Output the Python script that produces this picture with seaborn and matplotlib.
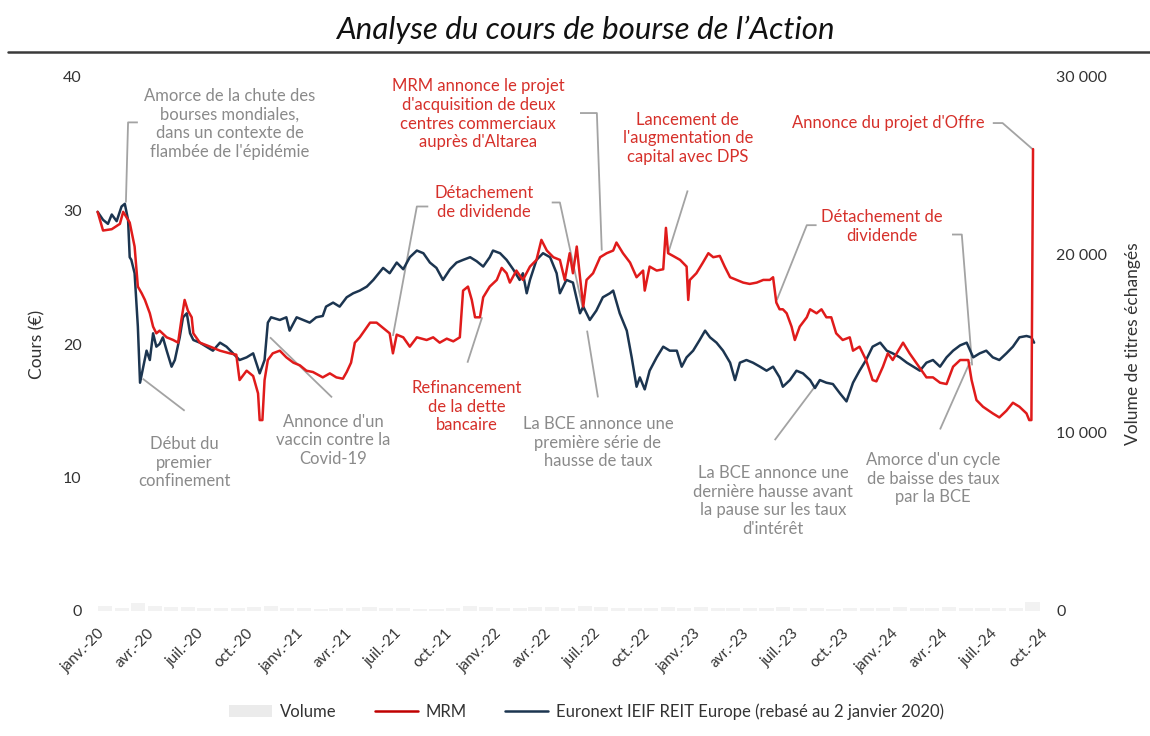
import matplotlib
matplotlib.use("Agg")
import matplotlib.pyplot as plt
from matplotlib.lines import Line2D
from matplotlib.patches import Patch
import seaborn as sns
import pandas as pd

# ---------------- data ----------------
mrm_dates = ['2020-01-02','2020-01-12','2020-01-28','2020-02-12','2020-02-18','2020-03-01','2020-03-10','2020-03-16',
 '2020-03-23','2020-03-29','2020-04-07','2020-04-13','2020-04-19','2020-04-25','2020-05-08','2020-05-20','2020-05-29',
 '2020-06-04','2020-06-10','2020-06-16','2020-06-23','2020-06-26','2020-07-08','2020-07-27','2020-08-14','2020-09-01',
 '2020-09-13','2020-09-19','2020-10-02','2020-10-14','2020-10-23','2020-10-26','2020-10-31','2020-11-04','2020-11-10',
 '2020-11-19','2020-12-02','2020-12-14','2020-12-27','2021-01-08','2021-01-20','2021-02-01','2021-02-19','2021-03-04',
 '2021-03-16','2021-03-28','2021-04-04','2021-04-12','2021-04-19','2021-04-28','2021-05-17','2021-05-29','2021-06-10',
 '2021-06-22','2021-06-28','2021-07-05','2021-07-17','2021-07-29','2021-08-11','2021-08-29','2021-09-10','2021-09-22',
 '2021-10-05','2021-10-17','2021-10-29','2021-11-04','2021-11-13','2021-11-20','2021-11-26','2021-12-05','2021-12-11',
 '2021-12-23','2022-01-05','2022-01-14','2022-01-23','2022-01-29','2022-02-10','2022-02-22','2022-03-07','2022-03-19',
 '2022-03-28','2022-04-07','2022-04-19','2022-05-01','2022-05-10','2022-05-19','2022-05-25','2022-06-01','2022-06-07',
 '2022-06-13','2022-06-19','2022-07-01','2022-07-14','2022-07-26','2022-08-07','2022-08-13','2022-08-25','2022-09-07',
 '2022-09-19','2022-10-01','2022-10-04','2022-10-13','2022-10-26','2022-11-07','2022-11-12','2022-11-16','2022-11-25',
 '2022-12-08','2022-12-20','2022-12-23','2022-12-26','2023-01-07','2023-01-19','2023-01-29','2023-02-07','2023-02-19',
 '2023-02-28','2023-03-10','2023-03-22','2023-04-03','2023-04-15','2023-04-28','2023-05-10','2023-05-22','2023-05-28',
 '2023-06-03','2023-06-09','2023-06-15','2023-06-22','2023-07-01','2023-07-07','2023-07-16','2023-07-29','2023-08-04',
 '2023-08-16','2023-08-25','2023-09-03','2023-09-12','2023-09-21','2023-10-03','2023-10-16','2023-10-22','2023-11-03',
 '2023-11-15','2023-11-27','2023-12-04','2023-12-16','2023-12-25','2024-01-03','2024-01-22','2024-02-03','2024-02-15',
 '2024-03-05','2024-03-17','2024-03-30','2024-04-11','2024-04-23','2024-05-06','2024-05-21','2024-05-27','2024-06-05',
 '2024-06-17','2024-07-05','2024-07-17','2024-07-30','2024-08-11','2024-08-23','2024-09-05','2024-09-10','2024-09-14',
 '2024-09-17']
mrm_values = [29.9,28.5,28.6,29.0,29.9,29.1,27.3,24.3,
 23.8,23.3,22.3,21.3,20.8,21.0,20.5,20.3,20.1,
 21.8,23.3,22.5,22.0,20.8,20.1,19.8,19.5,19.3,
 19.2,17.3,18.0,17.6,16.3,14.3,14.3,17.3,18.8,
 19.3,19.5,19.0,18.6,18.4,18.0,17.9,17.5,17.8,
 17.5,17.4,17.9,18.6,20.1,20.5,21.6,21.6,21.2,
 20.8,19.3,20.7,20.5,19.8,20.5,20.3,20.5,20.1,
 20.4,20.2,20.5,24.0,24.3,23.3,22.0,22.0,23.5,
 24.3,24.8,25.7,25.3,24.6,25.5,24.8,25.8,26.3,
 27.8,27.0,26.5,26.3,24.8,26.8,25.3,27.3,25.0,
 22.8,24.8,25.3,26.5,26.8,27.0,27.6,26.8,26.1,
 25.0,25.5,24.0,25.8,25.5,25.6,28.7,26.8,26.6,
 26.3,25.8,23.3,24.8,25.3,26.1,26.8,26.5,26.6,
 25.8,25.0,24.8,24.6,24.5,24.6,24.8,24.8,25.0,
 23.1,22.6,22.6,22.3,21.3,20.3,21.3,22.0,22.6,
 22.3,22.6,22.0,22.0,20.8,20.3,20.5,19.5,19.8,
 18.8,17.3,17.2,18.3,19.3,18.8,20.1,19.3,18.6,
 17.5,17.5,17.1,17.0,18.3,18.8,18.8,17.3,15.8,
 15.3,14.8,14.5,15.0,15.6,15.3,14.8,14.3,14.3,
 34.6]

reit_dates = ['2020-01-02','2020-01-12','2020-01-21','2020-01-28','2020-02-06','2020-02-15','2020-02-21','2020-02-27',
 '2020-03-01','2020-03-04','2020-03-10','2020-03-16','2020-03-20','2020-03-26','2020-04-01','2020-04-07','2020-04-13',
 '2020-04-19','2020-04-25','2020-05-01','2020-05-08','2020-05-17','2020-05-23','2020-06-01','2020-06-07','2020-06-14',
 '2020-06-20','2020-06-26','2020-07-08','2020-07-20','2020-08-01','2020-08-14','2020-08-26','2020-09-07','2020-09-19',
 '2020-10-02','2020-10-14','2020-10-26','2020-11-04','2020-11-10','2020-11-16','2020-12-02','2020-12-14','2020-12-20',
 '2021-01-02','2021-01-14','2021-01-26','2021-02-07','2021-02-19','2021-02-25','2021-03-10','2021-03-22','2021-04-04',
 '2021-04-16','2021-04-28','2021-05-11','2021-05-23','2021-06-10','2021-06-22','2021-07-05','2021-07-17','2021-07-29',
 '2021-08-11','2021-08-23','2021-09-04','2021-09-16','2021-09-28','2021-10-11','2021-10-23','2021-11-04','2021-11-17',
 '2021-11-29','2021-12-11','2021-12-23','2021-12-29','2022-01-11','2022-01-23','2022-02-04','2022-02-16','2022-02-22',
 '2022-03-01','2022-03-07','2022-03-19','2022-03-31','2022-04-13','2022-04-25','2022-05-01','2022-05-13','2022-05-25',
 '2022-06-07','2022-06-13','2022-06-25','2022-07-07','2022-07-19','2022-08-01','2022-08-07','2022-08-19','2022-09-01',
 '2022-09-10','2022-09-19','2022-09-25','2022-10-04','2022-10-13','2022-10-26','2022-11-07','2022-11-19','2022-12-02',
 '2022-12-11','2022-12-20','2023-01-01','2023-01-13','2023-01-23','2023-02-01','2023-02-13','2023-02-25','2023-03-10',
 '2023-03-19','2023-03-28','2023-04-09','2023-04-21','2023-05-04','2023-05-16','2023-05-28','2023-06-09','2023-06-15',
 '2023-06-28','2023-07-10','2023-07-22','2023-08-04','2023-08-13','2023-08-22','2023-09-03','2023-09-15','2023-09-28',
 '2023-10-10','2023-10-22','2023-11-03','2023-11-15','2023-11-27','2023-12-11','2023-12-23','2024-01-03','2024-01-16',
 '2024-01-29','2024-02-10','2024-02-22','2024-03-05','2024-03-17','2024-03-30','2024-04-11','2024-04-23','2024-05-06',
 '2024-05-18','2024-05-30','2024-06-11','2024-06-23','2024-07-05','2024-07-17','2024-07-30','2024-08-11','2024-08-23',
 '2024-09-05','2024-09-14','2024-09-19']
reit_values = [29.9,29.3,29.0,29.7,29.2,30.3,30.5,29.3,
 26.5,26.3,25.3,21.3,17.1,18.3,19.5,18.8,20.8,
 19.8,20.0,20.5,19.5,18.3,18.8,20.5,22.0,22.3,
 20.8,20.3,20.1,19.8,19.5,20.1,19.8,19.3,18.8,
 19.0,19.3,17.8,18.8,21.6,22.0,21.8,22.0,21.0,
 22.0,21.8,21.6,22.0,22.1,22.8,23.1,22.8,23.5,
 23.8,24.0,24.3,24.8,25.7,25.3,26.1,25.6,26.5,
 27.0,26.8,26.1,25.7,24.8,25.6,26.1,26.3,26.5,
 26.2,25.8,26.5,27.0,26.8,26.3,25.6,24.8,25.3,
 23.8,24.8,26.3,26.8,26.5,25.3,23.8,24.8,24.6,
 22.3,22.8,21.8,22.5,23.5,23.8,24.0,22.3,21.0,
 19.0,16.8,17.5,16.6,18.0,19.0,19.8,19.5,19.5,
 18.3,19.0,19.5,20.3,21.0,20.5,20.1,19.5,18.6,
 17.3,18.6,18.8,18.6,18.3,18.0,18.3,17.5,16.8,
 17.3,18.0,17.8,17.3,16.7,17.3,17.1,17.0,16.3,
 15.7,17.1,18.0,18.8,19.8,20.1,19.5,19.3,19.0,
 18.6,18.3,18.0,18.6,18.8,18.3,19.0,19.5,19.9,
 20.1,19.0,19.3,19.5,19.0,18.8,19.3,19.8,20.5,
 20.6,20.5,20.1]

volume_months = pd.date_range('2020-01-01', '2024-09-01', freq='MS')
volume_values = [260, 190, 450, 300, 220, 200, 160, 150, 170, 210, 280, 190,
                 150, 140, 160, 180, 210, 190, 150, 130, 140, 160, 300, 210,
                 190, 170, 220, 210, 190, 260, 200, 150, 170, 190, 210, 180,
                 200, 190, 170, 150, 160, 210, 180, 150, 140, 160, 170, 150,
                 200, 170, 150, 210, 190, 160, 150, 150, 480]

quarter_ticks = ['2020-01-01','2020-04-01','2020-07-01','2020-10-01','2021-01-01','2021-04-01','2021-07-01',
                 '2021-10-01','2022-01-01','2022-04-01','2022-07-01','2022-10-01','2023-01-01','2023-04-01',
                 '2023-07-01','2023-10-01','2024-01-01','2024-04-01','2024-07-01','2024-10-01']
quarter_labels = ['janv.-20','avr.-20','juil.-20','oct.-20','janv.-21','avr.-21','juil.-21','oct.-21',
                  'janv.-22','avr.-22','juil.-22','oct.-22','janv.-23','avr.-23','juil.-23','oct.-23',
                  'janv.-24','avr.-24','juil.-24','oct.-24']

left_ticks = [0, 10, 20, 30, 40]
right_ticks = [0, 10000, 20000, 30000]
right_labels = ['0', '10 000', '20 000', '30 000']

# ---------------- styles ----------------
RED = '#e01b1b'
NAVY = '#1c3550'
RED_TXT = '#d6302a'
GREY_TXT = '#8a8a8a'
LEAD = '#a3a3a3'
VOL = '#f2f2f2'

sns.set_theme(style='white')
plt.rcParams['font.family'] = ['Lato', 'DejaVu Sans']

fig = plt.figure(figsize=(11.5, 7.36), dpi=100)
ax = fig.add_axes([90/1150, 125/736, 955/1150, 534/736])
ax2 = ax.twinx()

# volume (right axis)
ax2.bar(volume_months + pd.Timedelta(days=15), volume_values, width=26, color=VOL, linewidth=0)

mrm = pd.DataFrame({'date': pd.to_datetime(mrm_dates), 'value': mrm_values})
reit = pd.DataFrame({'date': pd.to_datetime(reit_dates), 'value': reit_values})
sns.lineplot(data=reit, x='date', y='value', ax=ax, color=NAVY, lw=1.8, estimator=None)
sns.lineplot(data=mrm, x='date', y='value', ax=ax, color=RED, lw=1.8, estimator=None)

ax.set_zorder(ax2.get_zorder() + 1)
ax.patch.set_visible(False)

ax.set_xlim(pd.Timestamp('2019-12-19'), pd.Timestamp('2024-10-09'))
ax.set_ylim(0, 40)
ax2.set_ylim(0, 30000)

ax.set_yticks(left_ticks)
ax.set_yticklabels([str(t) for t in left_ticks])
ax2.set_yticks(right_ticks)
ax2.set_yticklabels(right_labels)
ax.set_xticks(pd.to_datetime(quarter_ticks))
ax.set_xticklabels(quarter_labels, rotation=45, ha='right', va='top', rotation_mode='anchor')

ax.tick_params(axis='x', length=0, pad=11, labelsize=11, labelcolor='#333333')
ax.tick_params(axis='y', length=0, pad=6, labelsize=11.5, labelcolor='#333333')
ax2.tick_params(axis='y', length=0, pad=8, labelsize=11.5, labelcolor='#333333')
for a in (ax, ax2):
    for s in a.spines.values():
        s.set_visible(False)
    a.grid(False)

ax.set_xlabel('')
ax.set_ylabel('Cours (€)', fontsize=12.5, color='#333333')
ax.yaxis.set_label_coords(-0.047, 0.5)
ax2.set_ylabel('Volume de titres échangés', fontsize=12.5, color='#333333')
ax2.yaxis.set_label_coords(1.0838, 0.5)

# ---------------- annotations ----------------
annotations = [
    ("Amorce de la chute des\nbourses mondiales,\ndans un contexte de\nflambée de l'épidémie", GREY_TXT,
     ('2020-09-01', 36.5), [[('2020-03-16', 36.6), ('2020-02-27', 36.6), ('2020-02-23', 30.6)]]),
    ("Début du\npremier\nconfinement", GREY_TXT,
     ('2020-06-10', 11.1), [[('2020-03-25', 17.4), ('2020-06-10', 15.0)]]),
    ("Annonce d'un\nvaccin contre la\nCovid-19", GREY_TXT,
     ('2021-03-10', 12.8), [[('2020-11-14', 20.5), ('2021-03-08', 16.0)]]),
    ("Détachement\nde dividende", RED_TXT,
     ('2021-12-13', 30.6), [[('2021-09-01', 30.3), ('2021-08-11', 30.3), ('2021-06-28', 20.6)],
                            [('2022-04-16', 30.6), ('2022-05-01', 30.6), ('2022-06-13', 22.5)]]),
    ("Refinancement\nde la dette\nbancaire", RED_TXT,
     ('2021-11-10', 15.3), [[('2021-11-12', 18.6), ('2021-12-09', 22.0)]]),
    ("MRM annonce le projet\nd'acquisition de deux\ncentres commerciaux\nauprès d'Altarea", RED_TXT,
     ('2021-12-02', 37.2), [[('2022-06-07', 37.3), ('2022-07-08', 37.3), ('2022-07-17', 27.0)]]),
    ("Lancement de\nl'augmentation de\ncapital avec DPS", RED_TXT,
     ('2022-12-22', 35.4), [[('2022-12-22', 31.5), ('2022-11-16', 26.8)]]),
    ("Annonce du projet d'Offre", RED_TXT,
     ('2023-12-25', 36.55), [[('2024-07-05', 36.55), ('2024-07-23', 36.55), ('2024-09-16', 34.6)]]),
    ("Détachement de\ndividende", RED_TXT,
     ('2023-12-14', 28.8), [[('2023-08-16', 28.9), ('2023-07-29', 28.9), ('2023-06-04', 23.3)],
                            [('2024-04-21', 28.2), ('2024-05-09', 28.2), ('2024-05-28', 18.4)]]),
    ("La BCE annonce une\npremière série de\nhausse de taux", GREY_TXT,
     ('2022-07-10', 12.6), [[('2022-07-10', 16.0), ('2022-06-20', 21.0)]]),
    ("La BCE annonce une\ndernière hausse avant\nla pause sur les taux\nd'intérêt", GREY_TXT,
     ('2023-05-28', 8.25), [[('2023-05-31', 12.8), ('2023-08-22', 17.3)]]),
    ("Amorce d'un cycle\nde baisse des taux\npar la BCE", GREY_TXT,
     ('2024-03-17', 9.9), [[('2024-03-30', 13.6), ('2024-05-24', 18.65)]]),
]

for text, col, (tx, ty), leaders in annotations:
    ax.text(pd.Timestamp(tx), ty, text, color=col, fontsize=12, ha='center', va='center',
            linespacing=1.2, zorder=6)
    for pts in leaders:
        xs = [pd.Timestamp(p[0]) for p in pts]
        ys = [p[1] for p in pts]
        ax.plot(xs, ys, color=LEAD, lw=1.3, zorder=1, solid_capstyle='butt')

# ---------------- title & legend ----------------
fig.text(0.5087, 0.959, "Analyse du cours de bourse de l\u2019Action", fontsize=22.5, fontstyle='italic',
         ha='center', va='center', color='#111111')
fig.add_artist(Line2D([8/1150, 1.0], [0.9293, 0.9293], transform=fig.transFigure, color='#3a3a3a', lw=1.8))

handles = [Patch(facecolor='#ebebeb', edgecolor='none'),
           Line2D([], [], color='#c00000', lw=1.8),
           Line2D([], [], color=NAVY, lw=1.8)]
labels = ['Volume', 'MRM', 'Euronext IEIF REIT Europe (rebasé au 2 janvier 2020)']
fig.legend(handles, labels, loc='center', bbox_to_anchor=(0.51, 0.033), ncol=3, frameon=False,
           fontsize=12, handlelength=2.6, handletextpad=0.45, columnspacing=2.3, labelcolor='#333333')

fig.savefig('out.png', dpi=100)
